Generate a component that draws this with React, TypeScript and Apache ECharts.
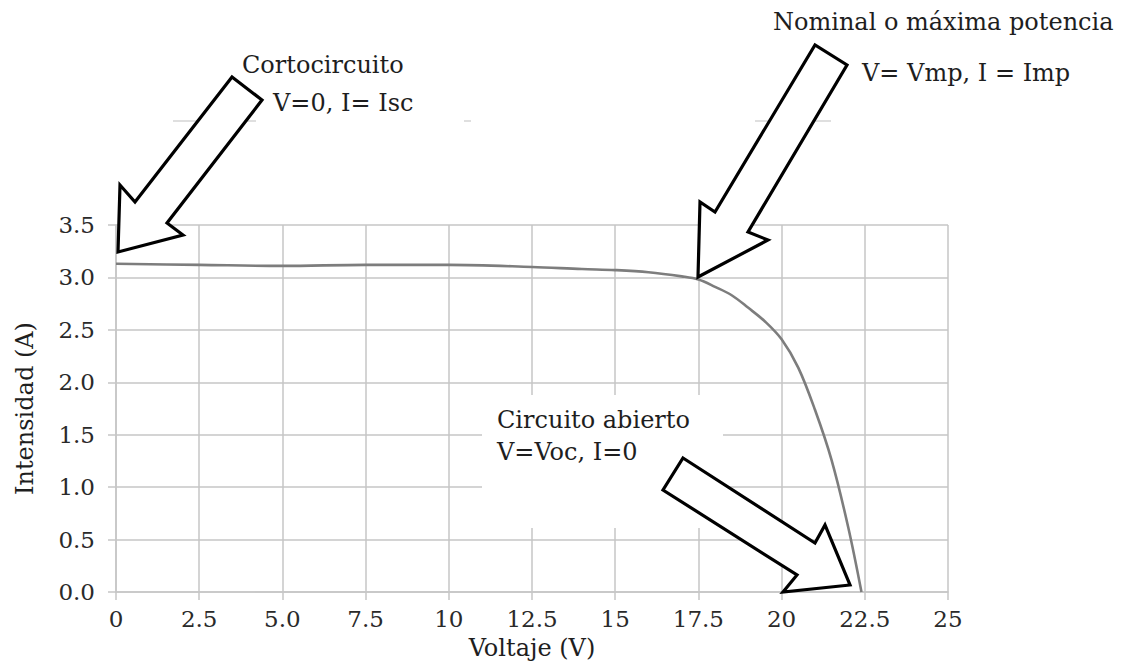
import React, { useEffect, useRef } from "react";
import * as echarts from "echarts";

const voltage = [0, 2.5, 5, 7.5, 10, 12.5, 14, 15, 16, 17, 17.5, 18, 18.5, 19, 19.5, 20, 20.5, 21, 21.5, 22, 22.4];
const current = [3.13, 3.12, 3.11, 3.12, 3.12, 3.1, 3.08, 3.07, 3.05, 3.01, 2.98, 2.91, 2.83, 2.71, 2.58, 2.41, 2.14, 1.74, 1.26, 0.62, 0];
const xTickLabels = ["0", "2.5", "5.0", "7.5", "10", "12.5", "15", "17.5", "20", "22.5", "25"];
const yTickLabels = ["0.0", "0.5", "1.0", "1.5", "2.0", "2.5", "3.0", "3.5"];
const xStep = 2.5;
const yStep = 0.5;

const FONT = "DejaVu Serif";
const GRID = "#c6c6c6";

export default function App() {
  const ref = useRef<HTMLDivElement>(null);
  useEffect(() => {
    document.body.style.margin = "0";
    if (!ref.current) return;
    const chart = echarts.init(ref.current, null, { renderer: "svg" });
    const annText = (text: string, x: number, y: number) => ({
      type: "text",
      x,
      y,
      z: 120,
      style: {
        text,
        fontFamily: FONT,
        fontSize: 24,
        fill: "#1e1e1e",
        align: "left",
        verticalAlign: "middle",
      },
    });
    const arrow = (points: number[][]) => ({
      type: "polygon",
      z: 110,
      shape: { points },
      style: { fill: "#ffffff", stroke: "#000000", lineWidth: 3.2, lineJoin: "miter" },
    });
    const remnant = (x1: number, x2: number) => ({
      type: "line",
      z: 90,
      shape: { x1, y1: 121, x2, y2: 121 },
      style: { stroke: "#d4d4d4", lineWidth: 1.5 },
    });
    chart.setOption({
      animation: false,
      backgroundColor: "#ffffff",
      textStyle: { fontFamily: FONT },
      grid: { left: 116, right: 180, top: 225, bottom: 74 },
      xAxis: {
        type: "value",
        min: 0,
        max: 25,
        interval: xStep,
        name: "Voltaje (V)",
        nameLocation: "middle",
        nameGap: 44,
        nameTextStyle: { fontFamily: FONT, fontSize: 24, color: "#1e1e1e" },
        axisLine: { show: true, lineStyle: { color: GRID, width: 1.5 } },
        axisTick: { show: true, length: 8, lineStyle: { color: GRID, width: 1.5 } },
        axisLabel: {
          margin: 15,
          fontFamily: FONT,
          fontSize: 23,
          color: "#2a2a2a",
          formatter: (v: number) => xTickLabels[Math.round(v / xStep)] ?? "",
        },
        splitLine: { show: true, lineStyle: { color: GRID, width: 1.5 } },
      },
      yAxis: {
        type: "value",
        min: 0,
        max: 3.5,
        interval: yStep,
        name: "Intensidad (A)",
        nameLocation: "middle",
        nameGap: 79,
        nameTextStyle: { fontFamily: FONT, fontSize: 24, color: "#1e1e1e" },
        axisLine: { show: true, lineStyle: { color: GRID, width: 1.5 } },
        axisTick: { show: true, length: 8, lineStyle: { color: GRID, width: 1.5 } },
        axisLabel: {
          margin: 21,
          fontFamily: FONT,
          fontSize: 23,
          color: "#2a2a2a",
          formatter: (v: number) => yTickLabels[Math.round(v / yStep)] ?? "",
        },
        splitLine: { show: true, lineStyle: { color: GRID, width: 1.5 } },
      },
      series: [
        {
          type: "line",
          data: voltage.map((v, i) => [v, current[i]]),
          smooth: 0.35,
          showSymbol: false,
          lineStyle: { color: "#7d7d7d", width: 2.6 },
          z: 5,
        },
      ],
      graphic: [
        remnant(173, 256),
        remnant(464, 471),
        remnant(755, 831),
        {
          type: "rect",
          z: 95,
          shape: { x: 482, y: 395, width: 241, height: 133 },
          style: { fill: "#ffffff" },
        },
        arrow([[118, 252], [120, 185], [135, 202], [232, 77], [262, 100], [167, 223], [183, 235]]),
        arrow([[698, 277], [700, 202], [715, 212], [815, 45], [847, 65], [748, 232], [768, 240]]),
        arrow([[683, 458], [815, 543], [825, 525], [850, 585], [783, 592], [797, 575], [663, 490]]),
        annText("Cortocircuito", 242, 65),
        annText("V=0, I= Isc", 273, 103),
        annText("Nominal o máxima potencia", 773, 22),
        annText("V= Vmp, I = Imp", 862, 73),
        annText("Circuito abierto", 497, 420),
        annText("V=Voc, I=0", 497, 452),
      ],
    });
    return () => chart.dispose();
  }, []);
  return <div ref={ref} style={{ width: 1128, height: 666 }} />;
}
